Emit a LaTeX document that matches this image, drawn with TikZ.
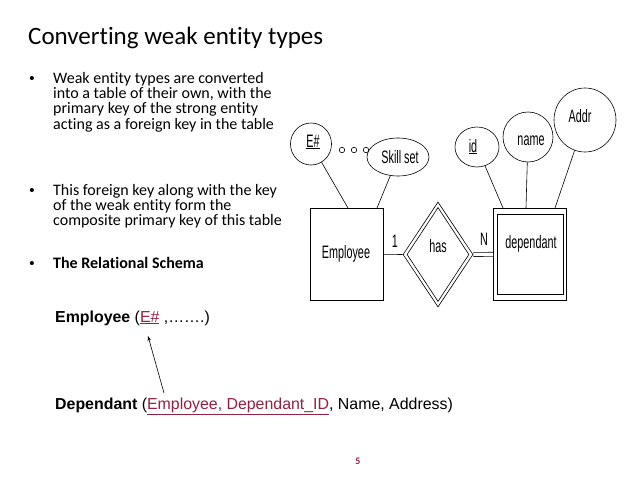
\documentclass[tikz,border=0pt]{standalone}
\usepackage{fontspec}
\usepackage{graphicx}
\setmainfont{Carlito}[Ligatures={NoCommon,NoContextual}]
\newfontfamily\arialf{Liberation Sans}
\usetikzlibrary{shapes.geometric,calc,arrows.meta}
\definecolor{slidered}{RGB}{145,35,65}
\newcommand\erx[1]{\scalebox{0.6}[1]{#1}}
\begin{document}
\begin{tikzpicture}[x=1pt,y=-1pt,
  ertext/.style={font=\arialf\fontsize{18}{18}\selectfont, inner sep=0, anchor=base},
  erline/.style={draw=black, line width=0.6pt},
  attr/.style={ellipse, erline, inner sep=0},
  bline/.style={anchor=base west, inner sep=0, font=\fontsize{16}{16}\selectfont},
  bdot/.style={anchor=base, inner sep=0, font=\arialf\fontsize{15}{15}\selectfont},
  reltext/.style={anchor=base west, inner sep=0, font=\arialf\fontsize{15.9}{15.9}\selectfont},
]
\useasboundingbox[fill=white] (0,0) rectangle (638,479);

% title
\node[anchor=base west, inner sep=0, font=\fontsize{25}{25}\selectfont] (title) at (28,45) {Converting weak entity types};

% bullet 1
\node[bdot] (d1) at (32,83) {•};
\node[bline] (l11) at (53,83) {Weak entity types are converted};
\node[bline] (l12) at (53,98.4) {into a table of their own, with the};
\node[bline] (l13) at (53,113.8) {primary key of the strong entity};
\node[bline] (l14) at (53,129.2) {acting as a foreign key in the table};
% bullet 2
\node[bdot] (d2) at (32,195) {•};
\node[bline] (l21) at (53,195) {This foreign key along with the key};
\node[bline] (l22) at (53,210.4) {of the weak entity form the};
\node[bline] (l23) at (53,225.8) {composite primary key of this table};
% bullet 3
\node[bdot] (d3) at (32,268) {•};
\node[bline, font=\bfseries\fontsize{16}{16}\selectfont] (l31) at (53,268) {The Relational Schema};

% relational schema
\node[reltext] (emprel) at (55,322) {\textbf{Employee} (\textcolor{slidered}{\underline{E\#}} ,…….)};
\node[reltext] (deprel) at (55,409) {\textbf{Dependant} (\textcolor{slidered}{\underline{Employee, Dependant\_ID}}, Name, Address)};
\coordinate (arrS) at (164,393);
\coordinate (arrE) at (148,336);
\draw[line width=0.6pt, -{Stealth[length=5pt,width=3.5pt]}] (arrS) -- (arrE);

% page number
\node[anchor=base, inner sep=0, text=slidered, font=\bfseries\fontsize{10}{10}\selectfont] (pg) at (358,464) {5};

% ER diagram
\node[rectangle, erline, minimum width=73pt, minimum height=92pt, inner sep=0, anchor=north west] (emp) at (310,208) {};
\node[ertext] (emptxt) at (346,258) {\erx{Employee}};

\node[diamond, erline, minimum width=70pt, minimum height=105pt, inner sep=0] (has) at (438,254.5) {};
\node[diamond, erline, minimum width=62pt, minimum height=94pt, inner sep=0] (hasin) at (438,254.5) {};
\node[ertext] (hastxt) at (438,252) {\erx{has}};

\node[rectangle, erline, minimum width=73pt, minimum height=92pt, inner sep=0, anchor=north west] (dep) at (493,208) {};
\draw[erline] ($(dep.north west)+(4,6)$) rectangle ($(dep.south east)+(-3,-6)$);
\node[ertext] (deptxt) at (531,248) {\erx{dependant}};

\node[ertext] (one) at (395,247) {\erx{1}};
\node[ertext] (enn) at (484,245) {\erx{N}};

\draw[erline] (emp.east) -- (has.west);
\draw[erline, double, double distance=3.5pt] (has.east) -- (dep.west);

% attributes of Employee
\node[attr, minimum width=41pt, minimum height=42pt] (eh) at (311,144) {};
\node[ertext] (ehtxt) at (313,147) {\erx{\underline{E\#}}};
\node[attr, minimum width=62pt, minimum height=38pt] (sk) at (398,157) {};
\node[ertext] (sktxt) at (400,163) {\erx{Skill set}};
\node[circle, erline, minimum size=5.5pt, inner sep=0] (c1) at (342,150) {};
\node[circle, erline, minimum size=5.5pt, inner sep=0] (c2) at (354,150) {};
\node[circle, erline, minimum size=5.5pt, inner sep=0] (c3) at (366,150) {};
\coordinate (empA) at (348,208);
\coordinate (empB) at (377,208);
\draw[erline] (eh) -- (empA);
\draw[erline] (sk) -- (empB);

% attributes of dependant
\node[attr, minimum width=44pt, minimum height=40pt] (idn) at (477,147) {};
\node[ertext] (idtxt) at (473,152) {\erx{\underline{id}}};
\node[attr, minimum width=50pt, minimum height=50pt] (nm) at (528,137) {};
\node[ertext] (nmtxt) at (531,145) {\erx{name}};
\node[attr, minimum width=62pt, minimum height=64pt] (ad) at (585,120) {};
\node[ertext] (adtxt) at (580,122) {\erx{Addr}};
\coordinate (depA) at (503,208);
\coordinate (depB) at (526,208);
\coordinate (depC) at (555,208);
\draw[erline] (idn) -- (depA);
\draw[erline] (nm) -- (depB);
\draw[erline] (ad) -- (depC);
\end{tikzpicture}
\end{document}
